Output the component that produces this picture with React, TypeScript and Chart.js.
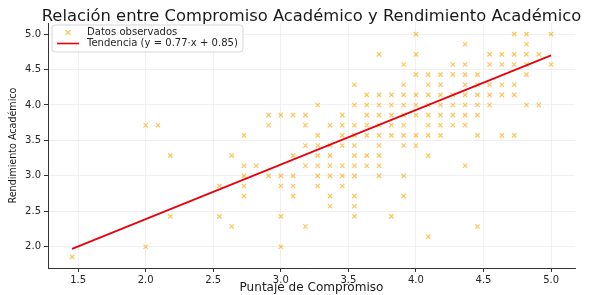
import React, { useEffect, useRef } from "react";
import { Chart, registerables } from "chart.js";

Chart.register(...registerables);

// Observed points (x = Puntaje de Compromiso, y = Rendimiento Académico), listed row by row
const compromiso = [
  4.0, 4.727, 4.818, 5.0,
  4.364, 4.818,
  3.727, 4.0, 4.545, 4.636, 4.727, 4.818, 4.909,
  3.909, 4.273, 4.364, 4.545, 4.636, 4.727, 4.818, 5.0,
  4.0, 4.091, 4.182, 4.273, 4.364, 4.455, 4.818,
  3.545, 3.909, 4.091, 4.182, 4.364, 4.455, 4.545, 4.636, 4.727,
  3.636, 3.727, 3.818, 3.909, 4.0, 4.091, 4.182, 4.273, 4.364, 4.455, 4.545, 4.636, 4.727,
  3.273, 3.545, 3.636, 3.727, 3.818, 3.909, 4.0, 4.091, 4.182, 4.273, 4.364, 4.455, 4.545, 4.818, 4.909,
  2.909, 3.0, 3.091, 3.182, 3.455, 3.636, 3.727, 3.818, 3.909, 4.0, 4.091, 4.182, 4.273, 4.364, 4.455,
  2.0, 2.091, 2.909, 3.182, 3.364, 3.455, 3.545, 3.636, 3.727, 3.818, 3.909, 4.091, 4.182, 4.273, 4.364,
  2.727, 3.273, 3.455, 3.545, 3.636, 3.727, 3.818, 3.909, 4.0, 4.091, 4.182, 4.455, 4.636, 4.727,
  3.182, 3.273, 3.364, 3.455, 3.545, 3.727, 3.909, 4.0,
  2.182, 2.636, 3.091, 3.273, 3.364, 3.545, 3.636, 3.727, 4.091,
  2.727, 2.818, 3.182, 3.273, 3.364, 3.455, 3.545, 3.636, 3.727, 4.364,
  2.727, 2.909, 3.0, 3.091, 3.273, 3.364, 3.455, 3.545, 3.727, 3.909,
  2.545, 2.727, 3.0, 3.091, 3.273, 3.455,
  2.727, 3.091, 3.364, 3.545, 3.909,
  3.364, 3.545,
  2.182, 2.545, 3.0, 3.545, 3.818,
  2.636, 3.182, 4.455,
  4.091,
  2.0, 3.0,
  1.455,
];

const rendimiento = [
  5.0, 5.0, 5.0, 5.0,
  4.857, 4.857,
  4.714, 4.714, 4.714, 4.714, 4.714, 4.714, 4.714,
  4.571, 4.571, 4.571, 4.571, 4.571, 4.571, 4.571, 4.571,
  4.429, 4.429, 4.429, 4.429, 4.429, 4.429, 4.429,
  4.286, 4.286, 4.286, 4.286, 4.286, 4.286, 4.286, 4.286, 4.286,
  4.143, 4.143, 4.143, 4.143, 4.143, 4.143, 4.143, 4.143, 4.143, 4.143, 4.143, 4.143, 4.143,
  4.0, 4.0, 4.0, 4.0, 4.0, 4.0, 4.0, 4.0, 4.0, 4.0, 4.0, 4.0, 4.0, 4.0, 4.0,
  3.857, 3.857, 3.857, 3.857, 3.857, 3.857, 3.857, 3.857, 3.857, 3.857, 3.857, 3.857, 3.857, 3.857, 3.857,
  3.714, 3.714, 3.714, 3.714, 3.714, 3.714, 3.714, 3.714, 3.714, 3.714, 3.714, 3.714, 3.714, 3.714, 3.714,
  3.571, 3.571, 3.571, 3.571, 3.571, 3.571, 3.571, 3.571, 3.571, 3.571, 3.571, 3.571, 3.571, 3.571,
  3.429, 3.429, 3.429, 3.429, 3.429, 3.429, 3.429, 3.429,
  3.286, 3.286, 3.286, 3.286, 3.286, 3.286, 3.286, 3.286, 3.286,
  3.143, 3.143, 3.143, 3.143, 3.143, 3.143, 3.143, 3.143, 3.143, 3.143,
  3.0, 3.0, 3.0, 3.0, 3.0, 3.0, 3.0, 3.0, 3.0, 3.0,
  2.857, 2.857, 2.857, 2.857, 2.857, 2.857,
  2.714, 2.714, 2.714, 2.714, 2.714,
  2.571, 2.571,
  2.429, 2.429, 2.429, 2.429, 2.429,
  2.286, 2.286, 2.286,
  2.143,
  2.0, 2.0,
  1.857,
];

const trendSlope = 0.77;
const trendIntercept = 0.85;
const trendX = [1.455, 5.0];

const xTicks = [1.5, 2.0, 2.5, 3.0, 3.5, 4.0, 4.5, 5.0];
const yTicks = [2.0, 2.5, 3.0, 3.5, 4.0, 4.5, 5.0];

const titleText = "Relación entre Compromiso Académico y Rendimiento Académico";
const xTitle = "Puntaje de Compromiso";
const yTitle = "Rendimiento Académico";
const scatterLabel = "Datos observados";
const trendLabel = "Tendencia (y = 0.77·x + 0.85)";

const FONT = "'DejaVu Sans', sans-serif";
const Y_FONT = "'DejaVu Sans Condensed', 'Liberation Sans Narrow', 'DejaVu Sans', sans-serif";
const POINT_COLOR = "rgba(255, 165, 0, 0.65)";
const LINE_COLOR = "#e8000b";

// choose a font size so that a text spans a given width
function fitSize(text: string, family: string, target: number): number {
  const c = document.createElement("canvas").getContext("2d");
  if (!c) return 11;
  c.font = `normal 20px ${family}`;
  const w = c.measureText(text).width || 1;
  return (20 * target) / w;
}

export default function App() {
  const canvasRef = useRef<HTMLCanvasElement | null>(null);

  useEffect(() => {
    document.body.style.margin = "0";
    const canvas = canvasRef.current;
    if (!canvas) return;

    const titleSize = fitSize(titleText, FONT, 540);
    const xTitleSize = fitSize(xTitle, FONT, 144);
    const yTitleSize = fitSize(yTitle, Y_FONT, 116);
    const legendSize = fitSize(trendLabel, FONT, 151);

    const titlePlugin = {
      id: "areaTitle",
      afterDraw(chart: any) {
        const { ctx, chartArea } = chart;
        ctx.save();
        ctx.fillStyle = "#1a1a1a";
        ctx.font = `normal ${titleSize}px ${FONT}`;
        ctx.textAlign = "center";
        ctx.textBaseline = "alphabetic";
        ctx.fillText(titleText, (chartArea.left + chartArea.right) / 2, 20.5);
        ctx.restore();
      },
    };

    const legendPlugin = {
      id: "insideLegend",
      afterDatasetsDraw(chart: any) {
        const { ctx, chartArea } = chart;
        const x0 = chartArea.left + 4;
        const y0 = chartArea.top + 2;
        const w = 191;
        const h = 27;
        const r = 3;
        ctx.save();
        ctx.beginPath();
        ctx.moveTo(x0 + r, y0);
        ctx.lineTo(x0 + w - r, y0);
        ctx.arcTo(x0 + w, y0, x0 + w, y0 + r, r);
        ctx.lineTo(x0 + w, y0 + h - r);
        ctx.arcTo(x0 + w, y0 + h, x0 + w - r, y0 + h, r);
        ctx.lineTo(x0 + r, y0 + h);
        ctx.arcTo(x0, y0 + h, x0, y0 + h - r, r);
        ctx.lineTo(x0, y0 + r);
        ctx.arcTo(x0, y0, x0 + r, y0, r);
        ctx.closePath();
        ctx.fillStyle = "rgba(255,255,255,0.85)";
        ctx.fill();
        ctx.strokeStyle = "#d6d6d6";
        ctx.lineWidth = 1;
        ctx.stroke();

        const mx = x0 + 16;
        const my = y0 + 7.5;
        ctx.strokeStyle = POINT_COLOR;
        ctx.lineWidth = 1.2;
        ctx.beginPath();
        ctx.moveTo(mx - 2.5, my - 2.5);
        ctx.lineTo(mx + 2.5, my + 2.5);
        ctx.moveTo(mx - 2.5, my + 2.5);
        ctx.lineTo(mx + 2.5, my - 2.5);
        ctx.stroke();

        const ly = y0 + 18.5;
        ctx.strokeStyle = LINE_COLOR;
        ctx.lineWidth = 1.6;
        ctx.beginPath();
        ctx.moveTo(x0 + 5, ly);
        ctx.lineTo(x0 + 27, ly);
        ctx.stroke();

        ctx.fillStyle = "#262626";
        ctx.font = `normal ${legendSize}px ${FONT}`;
        ctx.textBaseline = "middle";
        ctx.textAlign = "left";
        ctx.fillText(scatterLabel, x0 + 35, my);
        ctx.fillText(trendLabel, x0 + 35, ly);
        ctx.restore();
      },
    };

    const points = compromiso.map((x, i) => ({ x, y: rendimiento[i] }));
    const trend = trendX.map((x) => ({ x, y: trendSlope * x + trendIntercept }));

    const chart = new Chart(canvas, {
      type: "scatter",
      data: {
        datasets: [
          {
            label: trendLabel,
            type: "line",
            data: trend,
            borderColor: LINE_COLOR,
            borderWidth: 1.7,
            pointRadius: 0,
            fill: false,
            order: 0,
          } as any,
          {
            label: scatterLabel,
            data: points,
            pointStyle: "crossRot",
            pointRadius: 3,
            borderColor: POINT_COLOR,
            backgroundColor: POINT_COLOR,
            pointBorderWidth: 1.2,
            order: 1,
          } as any,
        ],
      },
      plugins: [legendPlugin, titlePlugin],
      options: {
        responsive: false,
        animation: false,
        devicePixelRatio: 1,
        layout: { padding: { left: 0, right: 14, top: 23, bottom: 0 } },
        plugins: {
          legend: { display: false },
          tooltip: { enabled: false },
          title: { display: false },
        },
        scales: {
          x: {
            type: "linear",
            min: 1.277,
            max: 5.177,
            afterBuildTicks: (scale: any) => {
              scale.ticks = xTicks.map((v) => ({ value: v }));
            },
            afterFit: (scale: any) => {
              scale.height = 27;
            },
            ticks: {
              color: "#262626",
              font: { family: FONT, size: 10 },
              padding: 2,
              maxRotation: 0,
              callback: (v: any) => Number(v).toFixed(1),
            },
            grid: {
              color: "#ececec",
              lineWidth: 0.8,
              tickColor: "#333333",
              tickLength: 4,
              tickWidth: 1,
            },
            border: { display: true, color: "#333333", width: 1 },
            title: {
              display: true,
              text: xTitle,
              color: "#1a1a1a",
              font: { family: FONT, size: xTitleSize, lineHeight: 1.1 },
              padding: { top: 0, bottom: 1 },
            },
          },
          y: {
            type: "linear",
            min: 1.7,
            max: 5.157,
            afterBuildTicks: (scale: any) => {
              scale.ticks = yTicks.map((v) => ({ value: v }));
            },
            afterFit: (scale: any) => {
              scale.width = 48;
            },
            ticks: {
              color: "#262626",
              font: { family: FONT, size: 10 },
              padding: 3,
              callback: (v: any) => Number(v).toFixed(1),
            },
            grid: {
              color: "#ececec",
              lineWidth: 0.8,
              tickColor: "#333333",
              tickLength: 4,
              tickWidth: 1,
            },
            border: { display: true, color: "#333333", width: 1 },
            title: {
              display: true,
              text: yTitle,
              color: "#1a1a1a",
              font: { family: Y_FONT, size: yTitleSize, lineHeight: 1.0 },
              padding: { top: 8, bottom: 0 },
            },
          },
        },
      },
    });

    return () => {
      chart.destroy();
    };
  }, []);

  return (
    <div style={{ width: 589, height: 295, background: "#ffffff" }}>
      <canvas ref={canvasRef} width={589} height={295} />
    </div>
  );
}
